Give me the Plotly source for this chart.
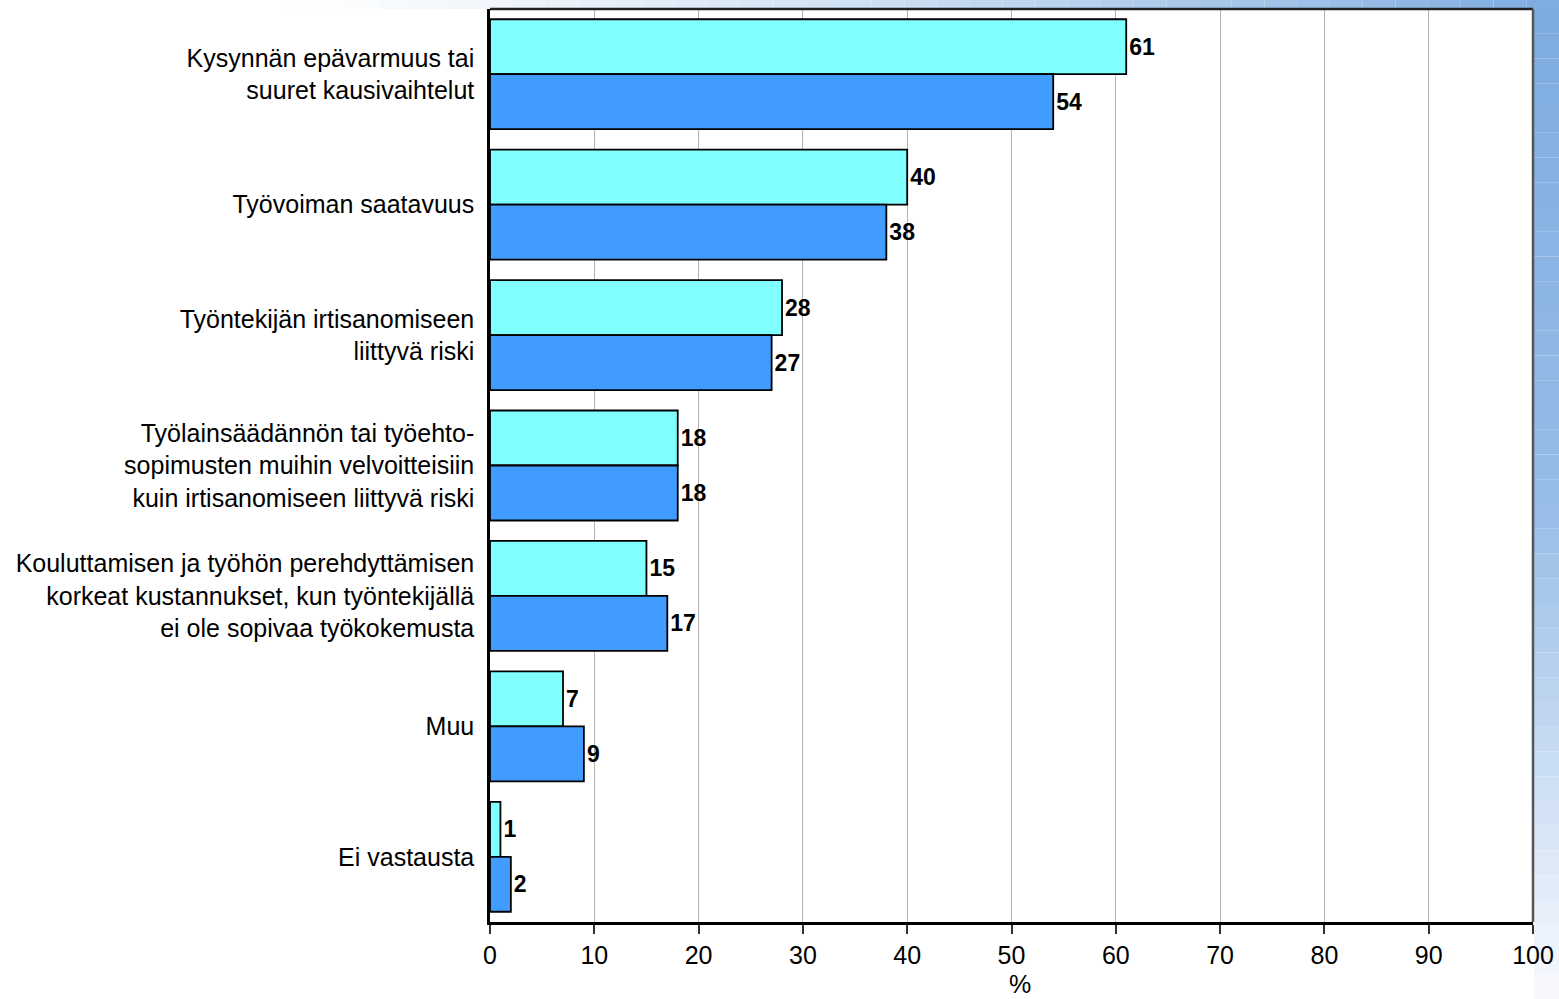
import plotly.graph_objects as go

categories = [
    "Kysynnän epävarmuus tai<br>suuret kausivaihtelut",
    "Työvoiman saatavuus",
    "Työntekijän irtisanomiseen<br>liittyvä riski",
    "Työlainsäädännön tai työehto-<br>sopimusten muihin velvoitteisiin<br>kuin irtisanomiseen liittyvä riski",
    "Kouluttamisen ja työhön perehdyttämisen<br>korkeat kustannukset, kun työntekijällä<br>ei ole sopivaa työkokemusta",
    "Muu",
    "Ei vastausta",
]
series1 = [61, 40, 28, 18, 15, 7, 1]
series2 = [54, 38, 27, 18, 17, 9, 2]
x_ticks = [0, 10, 20, 30, 40, 50, 60, 70, 80, 90, 100]
x_title = "%"

W, H = 1559, 999
ML, MR, MT, MB = 490, 26, 9, 77
FONT = "Arial, Liberation Sans, sans-serif"

fig = go.Figure()
for vals, col in [(series1, "#80FFFF"), (series2, "#409CFF")]:
    fig.add_trace(go.Bar(
        y=categories, x=vals, orientation="h",
        marker=dict(color=col, line=dict(color="#000000", width=1.8)),
        text=vals, textposition="outside", cliponaxis=False,
        textfont=dict(family=FONT, size=23, color="#000000", weight="bold"),
        showlegend=False,
    ))

# background gradient approximation (top strip and right strip)
def lerp(c1, c2, t):
    return "rgb(%d,%d,%d)" % tuple(round(a + (b - a) * t) for a, b in zip(c1, c2))

shapes = []
pw = W - ML - MR
ph = H - MT - MB
def px_to_paper_x(px):
    return (px - ML) / pw
def px_to_paper_y(py):
    return 1 - (py - MT) / ph

n = 40
x0 = 250
for i in range(n):
    a = x0 + (W - x0) * i / n
    b = x0 + (W - x0) * (i + 1) / n
    t = (i + 0.5) / n
    shapes.append(dict(type="rect", xref="paper", yref="paper",
                       x0=px_to_paper_x(a), x1=px_to_paper_x(b),
                       y0=px_to_paper_y(MT), y1=px_to_paper_y(0),
                       fillcolor=lerp((255, 255, 255), (125, 172, 224), t ** 1.3),
                       line=dict(width=0), layer="below"))
for i in range(n):
    a = MT + (H - MT) * i / n
    b = MT + (H - MT) * (i + 1) / n
    t = (i + 0.5) / n
    if t < 0.5:
        c = lerp((125, 172, 224), (150, 188, 230), t / 0.5)
    else:
        c = lerp((150, 188, 230), (248, 250, 254), (t - 0.5) / 0.5)
    shapes.append(dict(type="rect", xref="paper", yref="paper",
                       x0=px_to_paper_x(W - MR + 1), x1=px_to_paper_x(W + 10),
                       y0=px_to_paper_y(b), y1=px_to_paper_y(a),
                       fillcolor=c, line=dict(width=0), layer="below"))

# frame top and right
shapes.append(dict(type="line", xref="paper", yref="paper", x0=0, x1=1, y0=1, y1=1,
                   line=dict(color="#222222", width=2.5)))
shapes.append(dict(type="line", xref="paper", yref="paper", x0=1, x1=1, y0=0, y1=1,
                   line=dict(color="#555555", width=2.5)))

fig.update_layout(
    width=W, height=H,
    margin=dict(l=ML, r=MR, t=MT, b=MB, pad=0),
    paper_bgcolor="#FFFFFF", plot_bgcolor="#FFFFFF",
    barmode="group", bargap=0.157, bargroupgap=0,
    font=dict(family=FONT, size=25, color="#000000"),
    shapes=shapes,
    annotations=[dict(text=x_title, xref="paper", yref="paper",
                      x=px_to_paper_x(1020), y=px_to_paper_y(984),
                      xanchor="center", yanchor="middle", showarrow=False,
                      font=dict(family=FONT, size=25, color="#000000"))],
    xaxis=dict(
        range=[0, 100], tickvals=x_ticks, ticktext=[str(v) for v in x_ticks],
        showgrid=True, gridcolor="#B4B4B4", gridwidth=1,
        showline=True, linecolor="#000000", linewidth=2.5,
        ticks="outside", ticklen=9, tickcolor="#333333", tickwidth=1.5,
        tickfont=dict(family=FONT, size=25, color="#000000"),
        zeroline=False, fixedrange=True, automargin=False,
    ),
    yaxis=dict(
        autorange="reversed",
        showline=True, linecolor="#000000", linewidth=2.5,
        ticks="", showgrid=False,
        tickfont=dict(family=FONT, size=25, color="#000000"),
        ticklabelstandoff=8,
        fixedrange=True, automargin=False,
    ),
)

fig.write_html(
    "out.html",
    config={"displayModeBar": False},
    post_script="document.body.style.margin='0';document.body.style.padding='0';document.body.style.overflow='hidden';",
)
